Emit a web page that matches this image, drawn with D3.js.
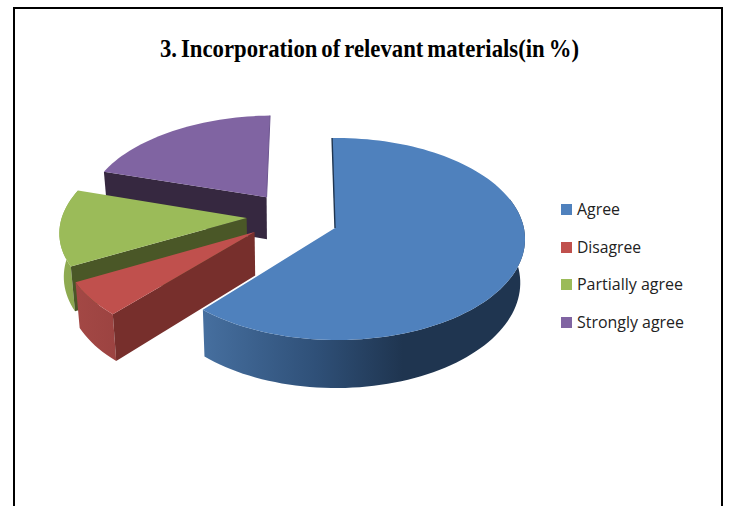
<!DOCTYPE html>
<html>
<head>
<meta charset="utf-8">
<script src="https://cdn.jsdelivr.net/npm/d3@7"></script>
<style>
html,body{margin:0;padding:0;background:#fff;overflow:hidden}
svg{display:block}
</style>
</head>
<body>
<svg id="chart" width="730" height="506"></svg>
<script>
// ---- data ----
const categories = ["Agree", "Disagree", "Partially agree", "Strongly agree"];
const shares = [61.6, 5.7, 12.8, 19.9];
const chartTitle = "3. Incorporation of relevant materials(in %)";

// ---- styling / layout ----
const topColors  = ["#4f81bd", "#c0504d", "#9bbb59", "#8064a2"];
const faceColors = ["#1f3550", "#772f2c", "#4a5727", "#362840"];
const rimStops = [
  [[0, "#466f9f"], [0.35, "#2f5078"], [0.62, "#1f3550"], [1, "#1f3550"]],
  [[0, "#a34845"], [1, "#9c4341"]],
  [[0, "#8fac52"], [1, "#8ba64f"]],
  [[0, "#5c4775"], [1, "#5c4775"]]
];
// explode offset and apparent radii of each slice on the pie plane
const explode = [[0, 0], [-0.43, -0.04], [-0.48, 0.101], [-0.38, 0.32]];
const radiiX = [1, 1.023, 1.02, 1.0];
const radiiZ = [1, 1, 0.99, 0.97];
const legendWidths = [43, 64, 106, 107];
const legendY = [209.5, 247.5, 284.5, 322.5];

const svg = d3.select("#chart");
const defs = svg.append("defs");

// frame
svg.append("path")
  .attr("d", "M14,506V8H722V506")
  .attr("fill", "none").attr("stroke", "#000").attr("stroke-width", 2);

// title
svg.append("text")
  .attr("x", 160).attr("y", 57)
  .attr("textLength", 419).attr("lengthAdjust", "spacingAndGlyphs")
  .attr("font-family", "'Liberation Serif', serif")
  .attr("font-weight", "bold").attr("font-size", 26).attr("word-spacing", -2)
  .attr("fill", "#000")
  .text(chartTitle);

// perspective projection of the pie plane through d3 scales
const persp = 0.109, skew = -0.01, deg = Math.PI / 180;
const xTop = d3.scaleLinear().domain([-1, 1]).range([148, 522]);
const yTop = d3.scaleLinear().domain([-1, 1]).range([327.8, 128.2]);
const xBot = d3.scaleLinear().domain([-1, 1]).range([150.7, 517.3]);
const yBot = d3.scaleLinear().domain([-1, 1]).range([375.3, 167.3]);

function project(X, Z, bottom) {
  const w = 1 + persp * Z + skew * X, px = X / w, pz = Z / w;
  return bottom ? [xBot(px), yBot(pz)] : [xTop(px), yTop(pz)];
}

const pie = d3.pie().sort(null).value(v => v)
  .startAngle(-1 * deg).endAngle(359 * deg);
const arcs = pie(shares);
const line = d3.line();

function arcAngles(d) {
  const n = Math.max(8, Math.round((d.endAngle - d.startAngle) / (2 * deg)));
  return d3.range(n + 1).map(k => d.startAngle + (d.endAngle - d.startAngle) * k / n);
}
function pointAt(a, i, bottom) {
  const [ox, oz] = explode[i];
  return project(ox + radiiX[i] * Math.sin(a), oz + radiiZ[i] * Math.cos(a), bottom);
}
function apex(i, bottom) {
  return project(explode[i][0], explode[i][1], bottom);
}

arcs.forEach((d, i) => {
  defs.append("linearGradient").attr("id", "rim" + i)
    .selectAll("stop").data(rimStops[i]).join("stop")
    .attr("offset", s => s[0]).attr("stop-color", s => s[1]);
});

// painter's order: far slices first, the large slice last
[3, 2, 1, 0].forEach(i => {
  const d = arcs[i];
  const angles = arcAngles(d);
  const top = angles.map(a => pointAt(a, i, false));
  const g = svg.append("g");

  // outer wall: only the part that faces the viewer
  const near = angles.filter(a => Math.cos(a) < 0.3);
  if (near.length > 2) {
    const nt = near.map(a => pointAt(a, i, false));
    const nb = near.map(a => pointAt(a, i, true)).reverse();
    g.append("path")
      .attr("d", line(nt.concat(nb)) + "Z")
      .attr("fill", "url(#rim" + i + ")");
  }

  // visible cut wall
  if (d.startAngle > 0) {
    g.append("path")
      .attr("d", line([apex(i, false), top[0], pointAt(d.startAngle, i, true), apex(i, true)]) + "Z")
      .attr("fill", faceColors[i]);
  }

  // top surface
  g.append("path")
    .attr("d", line([apex(i, false)].concat(top)) + "Z")
    .attr("fill", topColors[i]);

  // thin edge along the far cut of blue and purple
  if (i === 0) {
    g.append("path")
      .attr("d", line([apex(i, false), top[0]]))
      .attr("stroke", faceColors[i]).attr("stroke-width", 1.4).attr("fill", "none");
  }
  if (i === 3) {
    g.append("path")
      .attr("d", line([apex(i, false), top[top.length - 1]]))
      .attr("stroke", "#6d5690").attr("stroke-width", 1).attr("fill", "none");
  }
});

// legend
const legend = svg.append("g").selectAll("g").data(categories).join("g")
  .attr("transform", (c, i) => `translate(561,${legendY[i]})`);
legend.append("rect")
  .attr("x", 0).attr("y", -5.5).attr("width", 11).attr("height", 11)
  .attr("fill", (c, i) => topColors[i]);
legend.append("text")
  .attr("x", 16).attr("y", 5.5)
  .attr("textLength", (c, i) => legendWidths[i])
  .attr("lengthAdjust", "spacingAndGlyphs")
  .attr("font-family", "'Open Sans','Noto Sans',sans-serif")
  .attr("font-size", 16).attr("fill", "#222")
  .text(c => c);
</script>
</body>
</html>
